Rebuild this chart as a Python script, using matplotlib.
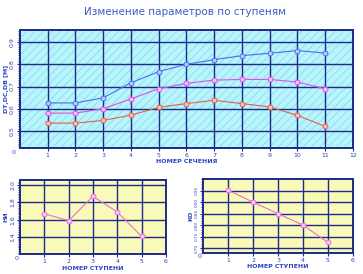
import numpy as np
import matplotlib
matplotlib.use('Agg')
import matplotlib.pyplot as plt
from matplotlib.patches import Rectangle
from matplotlib.ticker import MultipleLocator

plt.rcParams['hatch.linewidth'] = 0.6

# main chart: diameters along sections
sections = [1, 2, 3, 4, 5, 6, 7, 8, 9, 10, 11]
d_top = [0.626, 0.626, 0.649, 0.717, 0.767, 0.800, 0.821, 0.839, 0.850, 0.862, 0.851]
d_mid = [0.580, 0.580, 0.600, 0.644, 0.690, 0.714, 0.729, 0.732, 0.732, 0.720, 0.690]
d_bot = [0.535, 0.535, 0.547, 0.571, 0.606, 0.623, 0.638, 0.623, 0.608, 0.570, 0.520]
main_yticks = [0.5, 0.6, 0.7, 0.8, 0.9]

# lower charts: per stage
stages = [1, 2, 3, 4, 5]
head = [1.669, 1.588, 1.869, 1.689, 1.407]
head_yticks = [1.4, 1.6, 1.8, 2.0]
coef = [0.952, 0.900, 0.850, 0.800, 0.725]
coef_yticks = [0.70, 0.75, 0.80, 0.85, 0.90, 0.95]

navy = '#1c2a8c'
txt = '#2a44c0'

fig = plt.figure(figsize=(3.63, 2.74), dpi=100)
fig.patch.set_facecolor('white')
fig.text(0.51, 0.957, 'Изменение параметров по ступеням', ha='center', va='center',
         fontsize=7.5, color='#3a5cc8')


def style(ax, bg, hatch=None):
    ax.set_facecolor(bg)
    if hatch:
        ax.add_patch(Rectangle((0, 0), 1, 1, transform=ax.transAxes, facecolor=bg,
                               edgecolor='#8adcea', hatch=hatch, lw=0, zorder=0))
    for s in ax.spines.values():
        s.set_color(navy)
        s.set_linewidth(1.4)
    ax.grid(True, color=navy, lw=1.0, zorder=1)
    ax.tick_params(axis='both', colors=navy, labelcolor=txt, labelsize=4.5,
                   length=2, width=0.8, pad=1.5)
    ax.tick_params(axis='y', which='minor', colors=navy, length=1.5, width=0.6)
    for lab in ax.get_yticklabels():
        lab.set_rotation(90)
        lab.set_va('center')
    ax.text(-0.012, -0.02, '0', transform=ax.transAxes, ha='right', va='top',
            fontsize=4.5, color=txt)


# main chart
ax = fig.add_axes([0.055, 0.460, 0.917, 0.4307])
ax.plot(sections, d_top, color='#4a6ef0', lw=0.8, marker='o', ms=3.5,
        mfc='#b8c8ff', mec='#4a6ef0', mew=0.7, zorder=3)
ax.plot(sections, d_mid, color='#e050e0', lw=0.8, marker='o', ms=3.5,
        mfc='#ffb8ff', mec='#e050e0', mew=0.7, zorder=3)
ax.plot(sections, d_bot, color='#e06050', lw=0.8, marker='o', ms=3.5,
        mfc='#ffc0b0', mec='#e06050', mew=0.7, zorder=3)
ax.set_xlim(0, 12)
ax.set_ylim(0.423, 0.955)
ax.set_xticks(range(1, 13))
ax.set_yticks(main_yticks)
ax.yaxis.set_minor_locator(MultipleLocator(0.01))
ax.set_xlabel('НОМЕР СЕЧЕНИЯ', fontsize=4.5, color=txt, fontweight='bold', labelpad=1)
ax.set_ylabel('DТ,DС,DВ [М]', fontsize=4.5, color=txt, fontweight='bold', labelpad=1)
style(ax, '#b8f4fb', hatch='////')

# lower left chart
ax2 = fig.add_axes([0.055, 0.072, 0.402, 0.271])
ax2.plot(stages, head, color='#e070e0', lw=0.8, marker='o', ms=3.5,
         mfc='#ffc0ff', mec='#e070e0', mew=0.7, zorder=3)
ax2.set_xlim(0, 6)
ax2.set_ylim(1.2, 2.058)
ax2.set_xticks(range(1, 7))
ax2.set_yticks(head_yticks)
ax2.set_yticklabels(['1.4', '1.6', '1.8', '2.0'])
ax2.yaxis.set_minor_locator(MultipleLocator(0.02))
ax2.set_xlabel('НОМЕР СТУПЕНИ', fontsize=4.5, color=txt, fontweight='bold', labelpad=1)
ax2.set_ylabel('НИ', fontsize=4.5, color=txt, fontweight='bold', labelpad=1)
style(ax2, '#fafab8')

# lower right chart
ax3 = fig.add_axes([0.560, 0.0777, 0.412, 0.269])
ax3.plot(stages, coef, color='#e070e0', lw=0.8, marker='o', ms=3.5,
         mfc='#ffc0ff', mec='#e070e0', mew=0.7, zorder=3)
ax3.set_xlim(0, 6)
ax3.set_ylim(0.680, 1.001)
ax3.set_xticks(range(1, 7))
ax3.set_yticks(coef_yticks)
ax3.set_yticklabels(['%.2f' % v for v in coef_yticks])
ax3.yaxis.set_minor_locator(MultipleLocator(0.01))
ax3.set_xlabel('НОМЕР СТУПЕНИ', fontsize=4.5, color=txt, fontweight='bold', labelpad=1)
ax3.set_ylabel('КО', fontsize=4.5, color=txt, fontweight='bold', labelpad=1)
style(ax3, '#fafab8')
ax3.tick_params(axis='y', labelsize=3)

fig.savefig('out.png', dpi=100)
